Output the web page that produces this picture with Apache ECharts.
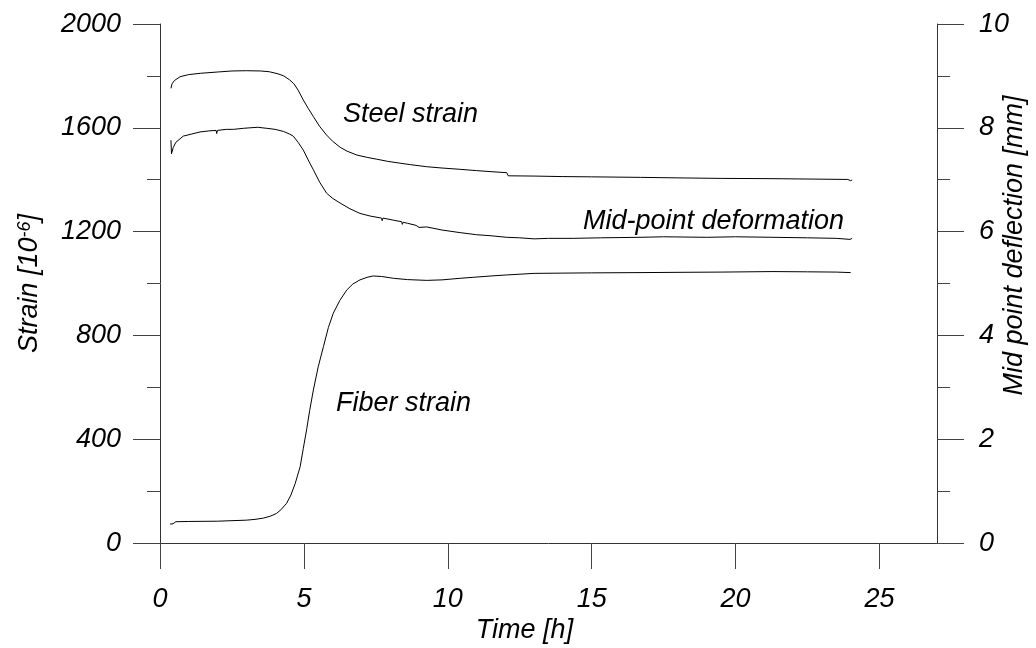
<!DOCTYPE html>
<html>
<head>
<meta charset="utf-8">
<script src="https://cdn.jsdelivr.net/npm/echarts@6/dist/echarts.min.js"></script>
<style>
  html, body { margin: 0; padding: 0; background: #fff; }
  #chart-container { width: 1036px; height: 648px; }
</style>
</head>
<body>
<div id="chart-container"></div>
<script>
// Datos (tiempo en horas)
const steelTime = [0.38, 0.42, 0.5, 0.7, 1.0, 1.4, 2.0, 2.5, 3.0, 3.5, 3.8, 4.1, 4.3, 4.5, 4.65, 4.8, 4.98, 5.15, 5.33, 5.55, 5.79, 6.0, 6.26, 6.5, 6.84, 7.2, 7.53, 7.9, 8.2, 8.23, 8.26, 8.7, 9.27, 9.8, 10.43, 11.0, 11.5, 12.05, 12.1, 13, 14, 15, 16.7, 18, 19.5, 21.3, 23, 23.9, 24.0, 24.05];
const steelStrain = [1752, 1770, 1782, 1797, 1805, 1810, 1815, 1819, 1820, 1819, 1816, 1808, 1800, 1785, 1770, 1745, 1707, 1675, 1643, 1605, 1572, 1548, 1525, 1510, 1495, 1486, 1479, 1471, 1466, 1460, 1465, 1458, 1450, 1445, 1440, 1435, 1431, 1427, 1415, 1414, 1412, 1411, 1409, 1407, 1405, 1404, 1402, 1401, 1396, 1399];

const midTime = [0.38, 0.4, 0.42, 0.46, 0.55, 0.81, 1.1, 1.39, 1.7, 1.95, 1.97, 2.0, 2.3, 2.55, 2.9, 3.13, 3.4, 3.71, 4.0, 4.29, 4.5, 4.63, 4.8, 4.98, 5.15, 5.33, 5.55, 5.79, 6.0, 6.26, 6.6, 6.95, 7.3, 7.7, 7.72, 7.75, 8.11, 8.4, 8.42, 8.45, 8.6, 8.9, 9.0, 9.05, 9.27, 9.8, 10.43, 11.0, 11.5, 12.05, 12.5, 13, 13.5, 14.36, 15.3, 16.68, 17.5, 19.0, 20, 21.3, 22.5, 23.5, 23.98, 24.05];
const midDeflection = [7.76, 7.5, 7.48, 7.62, 7.72, 7.84, 7.88, 7.92, 7.94, 7.95, 7.89, 7.95, 7.97, 7.97, 7.99, 8.0, 8.01, 7.99, 7.97, 7.93, 7.88, 7.84, 7.72, 7.57, 7.38, 7.19, 6.95, 6.74, 6.64, 6.55, 6.44, 6.35, 6.3, 6.26, 6.21, 6.26, 6.22, 6.19, 6.14, 6.18, 6.16, 6.12, 6.08, 6.11, 6.09, 6.03, 5.98, 5.94, 5.92, 5.89, 5.88, 5.86, 5.87, 5.87, 5.88, 5.89, 5.9, 5.89, 5.9, 5.89, 5.88, 5.87, 5.85, 5.87];

const fiberTime = [0.35, 0.45, 0.5, 0.55, 1.0, 2.0, 3.0, 3.3, 3.6, 3.85, 4.05, 4.2, 4.4, 4.55, 4.7, 4.87, 4.98, 5.1, 5.2, 5.33, 5.5, 5.68, 5.85, 6.02, 6.25, 6.49, 6.7, 6.95, 7.2, 7.41, 7.7, 8.0, 8.11, 8.13, 8.16, 8.6, 9.27, 9.8, 10.43, 10.9, 11.5, 12.05, 12.1, 13, 14, 15, 16.68, 18, 19.5, 21.3, 22.5, 23.5, 24.0];
const fiberStrain = [73, 74, 76, 82, 83, 84, 88, 91, 96, 104, 114, 128, 153, 185, 230, 294, 365, 440, 510, 590, 680, 757, 830, 885, 935, 975, 998, 1014, 1024, 1029, 1027, 1022, 1020, 1013, 1019, 1015, 1012, 1014, 1020, 1024, 1029, 1033, 1038, 1039, 1040, 1041, 1042, 1043, 1044, 1046, 1045, 1044, 1042];

const timeTicks = [0, 5, 10, 15, 20, 25];

const zip = (xs, ys) => xs.map((x, i) => [x, ys[i]]);

const font = 'Liberation Sans, Arial, sans-serif';
const textBase = { fontFamily: font, fontStyle: 'italic', fontSize: 27, color: '#000' };

const chartDom = document.getElementById('chart-container');
const myChart = echarts.init(chartDom);

const lineSeries = (name, data, yAxisIndex) => ({
    name: name,
    type: 'line',
    yAxisIndex: yAxisIndex,
    data: data,
    showSymbol: false,
    animation: false,
    lineStyle: { color: '#000', width: 1 }
});

const option = {
    backgroundColor: '#fff',
    grid: { left: 160, right: 99, top: 24, bottom: 105, containLabel: false, outerBoundsMode: 'none' },
    xAxis: {
        type: 'value',
        min: 0,
        max: 27,
        interval: 5,
        name: 'Time [h]',
        nameLocation: 'middle',
        nameGap: 74,
        nameMoveOverlap: false,
        nameTextStyle: Object.assign({}, textBase, { padding: [0, 48, 0, 0] }),
        axisLine: { lineStyle: { color: '#333', width: 1 } },
        axisTick: { inside: false, length: 26, customValues: timeTicks, lineStyle: { color: '#444' } },
        axisLabel: Object.assign({}, textBase, { margin: 43, customValues: timeTicks, formatter: v => String(v) }),
        splitLine: { show: false }
    },
    yAxis: [
        {
            type: 'value',
            position: 'left',
            min: 0,
            max: 2000,
            interval: 400,
            name: 'Strain [10{sup|-6}]',
            nameLocation: 'middle',
            nameGap: 117,
            nameMoveOverlap: false,
            nameTextStyle: Object.assign({}, textBase, {
                rich: {
                    sup: { fontFamily: font, fontStyle: 'italic', fontSize: 18, color: '#000', verticalAlign: 'top' }
                }
            }),
            axisLine: { show: true, onZero: false, lineStyle: { color: '#333', width: 1 } },
            axisTick: { length: 27, lineStyle: { color: '#444' } },
            minorTick: { show: true, splitNumber: 2, length: 13, lineStyle: { color: '#444' } },
            axisLabel: Object.assign({}, textBase, { margin: 39, formatter: v => String(v) }),
            splitLine: { show: false }
        },
        {
            type: 'value',
            position: 'right',
            min: 0,
            max: 10,
            interval: 2,
            name: 'Mid point deflection [mm]',
            nameLocation: 'middle',
            nameGap: 64,
            nameRotate: 90,
            nameMoveOverlap: false,
            nameTextStyle: Object.assign({}, textBase, { padding: [0, 0, 0, 76] }),
            axisLine: { show: true, onZero: false, lineStyle: { color: '#333', width: 1 } },
            axisTick: { length: 27, lineStyle: { color: '#444' } },
            minorTick: { show: true, splitNumber: 2, length: 13, lineStyle: { color: '#444' } },
            axisLabel: Object.assign({}, textBase, { margin: 42, formatter: v => String(v) }),
            splitLine: { show: false }
        }
    ],
    series: [
        lineSeries('Steel strain', zip(steelTime, steelStrain), 0),
        lineSeries('Mid-point deformation', zip(midTime, midDeflection), 1),
        lineSeries('Fiber strain', zip(fiberTime, fiberStrain), 0)
    ],
    graphic: [
        { type: 'text', left: 343, top: 101, style: Object.assign({ text: 'Steel strain' }, textBase, { fill: '#000' }) },
        { type: 'text', left: 583, top: 208, style: Object.assign({ text: 'Mid-point deformation' }, textBase, { fill: '#000' }) },
        { type: 'text', left: 336, top: 390, style: Object.assign({ text: 'Fiber strain' }, textBase, { fill: '#000' }) }
    ]
};

myChart.setOption(option);
</script>
</body>
</html>
